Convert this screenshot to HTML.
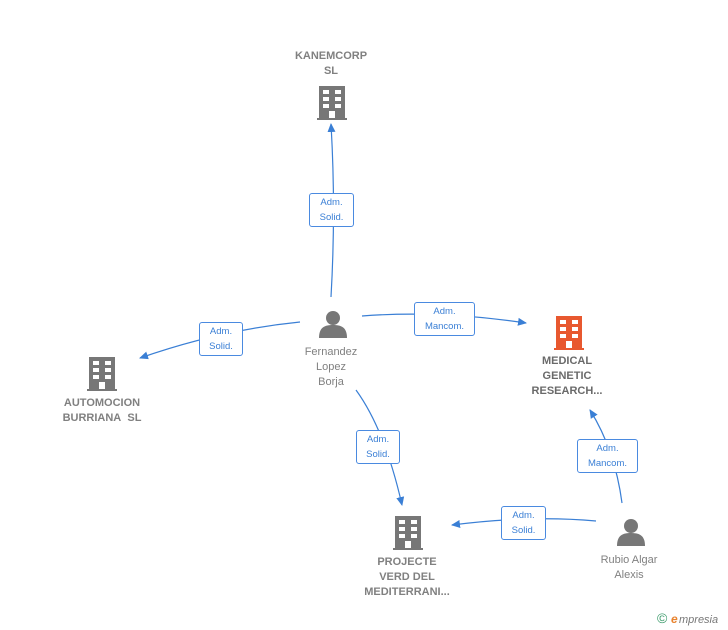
<!DOCTYPE html>
<html><head><style>
body{margin:0;width:728px;height:630px;background:#fff;font-family:"Liberation Sans",sans-serif;position:relative;overflow:hidden}
.t{position:absolute;font-size:11px;color:#808080;text-align:center;line-height:15px;width:120px}
.b{font-weight:bold}
.lb{position:absolute;border:1px solid #4a8ae0;border-radius:3px;background:#fff;color:#3a7fd5;font-size:9.5px;text-align:center;line-height:15px;padding:1px 0}
</style></head><body>
<svg width="728" height="630" style="position:absolute;left:0;top:0">
<defs>
<marker id="a" markerWidth="10" markerHeight="10" refX="8" refY="5" orient="auto" markerUnits="userSpaceOnUse"><path d="M0,1 L9,5 L0,9 Z" fill="#3a7fd5"/></marker>
<g id="bld"><rect x="0" y="0" width="26" height="33" fill="currentColor"/><g fill="#fff"><rect x="4" y="4" width="6" height="4"/><rect x="16" y="4" width="6" height="4"/><rect x="4" y="11" width="6" height="4"/><rect x="16" y="11" width="6" height="4"/><rect x="4" y="18" width="6" height="4"/><rect x="16" y="18" width="6" height="4"/><rect x="10" y="25" width="6" height="8"/></g><rect x="-2" y="32" width="30" height="2" fill="currentColor"/></g>
<g id="psn"><circle cx="14" cy="8" r="7" fill="#777"/><path d="M0,28 C0,17 6,15 14,15 C22,15 28,17 28,28 Z" fill="#777"/></g>
</defs>
<g fill="none" stroke="#3a7fd5" stroke-width="1.2">
<path d="M331,297 Q336,210 331,124" marker-end="url(#a)"/>
<path d="M300,322 Q220,330 140,358" marker-end="url(#a)"/>
<path d="M362,316 Q440,310 526,323" marker-end="url(#a)"/>
<path d="M356,390 Q385,430 402,505" marker-end="url(#a)"/>
<path d="M622,503 Q615,450 590,410" marker-end="url(#a)"/>
<path d="M596,521 Q530,515 452,525" marker-end="url(#a)"/>
</g>
<use href="#bld" x="319" y="86" style="color:#777"/>
<use href="#bld" x="89" y="357" style="color:#777"/>
<use href="#bld" x="556" y="316" style="color:#e8582f"/>
<use href="#bld" x="395" y="516" style="color:#777"/>
<use href="#psn" x="319" y="310"/>
<use href="#psn" x="617" y="518"/>
<text x="657" y="623" font-size="14" fill="#3a9a6a" font-family="Liberation Sans">©</text>
<text x="671" y="623" font-size="12" fill="#e8832f" font-style="italic" font-weight="bold" font-family="Liberation Sans">e</text>
<text x="679" y="623" font-size="11" fill="#777" font-style="italic" font-family="Liberation Sans">mpresia</text>
</svg>
<div class="t b" style="left:271px;top:49px">KANEMCORP<br>SL</div>
<div class="t" style="left:271px;top:345px">Fernandez<br>Lopez<br>Borja</div>
<div class="t b" style="left:42px;top:396px">AUTOMOCION<br>BURRIANA&nbsp; SL</div>
<div class="t b" style="left:507px;top:354px;color:#6a6a6a">MEDICAL<br>GENETIC<br>RESEARCH...</div>
<div class="t b" style="left:347px;top:555px">PROJECTE<br>VERD DEL<br>MEDITERRANI...</div>
<div class="t" style="left:569px;top:553px">Rubio Algar<br>Alexis</div>
<div class="lb" style="left:309px;top:193px;width:43px">Adm.<br>Solid.</div>
<div class="lb" style="left:199px;top:322px;width:42px">Adm.<br>Solid.</div>
<div class="lb" style="left:414px;top:302px;width:59px">Adm.<br>Mancom.</div>
<div class="lb" style="left:356px;top:430px;width:42px">Adm.<br>Solid.</div>
<div class="lb" style="left:577px;top:439px;width:59px">Adm.<br>Mancom.</div>
<div class="lb" style="left:501px;top:506px;width:43px">Adm.<br>Solid.</div>
</body></html>
